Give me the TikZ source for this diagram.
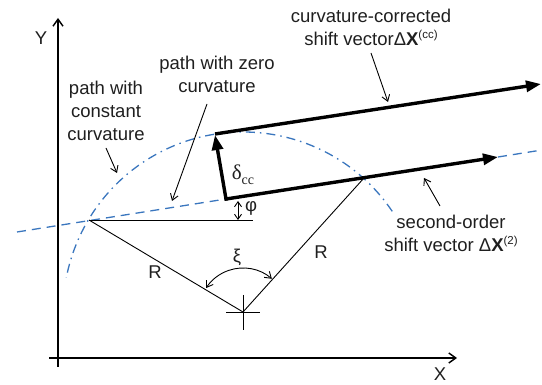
\documentclass[tikz,border=0pt]{standalone}
\usepackage{fontspec}
\setmainfont{Liberation Sans}
\newfontfamily\serifgreek{Liberation Serif}
\usetikzlibrary{arrows.meta,calc}
\definecolor{pathblue}{RGB}{58,118,190}
\newcommand{\supsmall}[1]{\raisebox{7pt}{\fontsize{11.5}{12}\selectfont #1}}
\begin{document}
\begin{tikzpicture}[x=1pt,y=1pt,
  lbl/.style={font=\fontsize{18.5}{23}\selectfont, inner sep=0pt, align=center, text=black!88},
  thinline/.style={line width=0.9pt},
  leader/.style={line width=0.9pt,-{Straight Barb[length=6pt,width=8pt]}},
  vec/.style={line width=3.4pt,-{Triangle[length=15pt,width=11pt]}},
  axis/.style={line width=1.4pt,-{Straight Barb[length=7pt,width=10pt]}},
  zeroline/.style={pathblue,line width=1.3pt,dash pattern=on 9pt off 6pt},
  constline/.style={pathblue,line width=1.3pt,dash pattern=on 9pt off 5pt on 1.5pt off 5pt},
]
\useasboundingbox (0,0) rectangle (542,-385);
% key points
\coordinate (Ytop) at (58,-18);
\coordinate (Ybot) at (58,-367);
\coordinate (Xleft) at (49,-358);
\coordinate (Xright) at (457,-358);
\coordinate (A) at (89,-220);
\coordinate (C) at (243,-312);
\coordinate (B) at (364,-178);
\coordinate (P) at (226,-199);
\coordinate (Q) at (215,-134);
\coordinate (T2) at (498,-157);
\coordinate (Tcc) at (541,-84);
\coordinate (Lz) at (17,-232);
\coordinate (Rz) at (542,-150);
\coordinate (H) at (253,-220);
\coordinate (Phi1) at (238,-201);
\coordinate (Phi2) at (238,-220);
% axes
\draw[axis] (Ybot) -- (Ytop);
\draw[axis] (Xleft) -- (Xright);
% paths
\draw[zeroline] (Lz) -- (P);
\draw[zeroline] (T2) -- (Rz);
\draw[constline] ([shift={(34:180pt)}]C) arc[start angle=34,end angle=169,radius=180pt];
% geometry
\draw[thinline] (A) -- (H);
\draw[thinline] (A) -- (C) -- (B);
\draw[thinline] ($(C)+(-17,0)$) -- ($(C)+(17,0)$);
\draw[thinline] ($(C)+(0,17)$) -- ($(C)+(0,-18)$);
\draw[thinline,{Straight Barb[length=6pt,width=8pt]}-{Straight Barb[length=6pt,width=8pt]}]
  ([shift={(49:44pt)}]C) arc[start angle=49,end angle=147,radius=44pt];
\draw[thinline,{Straight Barb[length=5pt,width=7pt]}-{Straight Barb[length=5pt,width=7pt]}] (Phi1) -- (Phi2);
% vectors
\draw[vec] (P) -- (T2);
\draw[vec] (Q) -- (Tcc);
\draw[vec, line cap=rect] (P) -- ($(Q)+(0,-1)$);
% labels
\node[lbl] (Ylab) at (41,-38) {Y};
\node[lbl] (Xlab) at (440,-374) {X};
\node[lbl] (R1) at (155,-272) {R};
\node[lbl] (R2) at (321,-252) {R};
\node[lbl] (xi) at (237,-257) {ξ};
\node[lbl] (phi) at (251,-208) {φ};
\node[lbl] (dcc) at (243,-175) {{\fontsize{21}{21}\selectfont\serifgreek δ\raisebox{-5pt}{\fontsize{14}{14}\selectfont cc}}};
\node[lbl] (constlab) at (106,-111) {path with\\constant\\curvature};
\node[lbl] (zerolab) at (217,-74) {path with zero\\curvature};
\node[lbl] (cclab) at (371,-27) {curvature-corrected\\shift vectorΔ\textbf{X}\supsmall{(cc)}};
\node[lbl] (solab) at (451,-233) {second-order\\shift vector Δ\textbf{X}\supsmall{(2)}};
% leaders
\coordinate (c1) at (106,-148); \coordinate (c2) at (117,-173);
\coordinate (z1) at (207,-104); \coordinate (z2) at (172,-201);
\coordinate (k1) at (371,-53); \coordinate (k2) at (388,-102);
\coordinate (s1) at (440,-206); \coordinate (s2) at (424,-178);
\draw[leader] (c1) -- (c2);
\draw[leader] (z1) -- (z2);
\draw[leader] (k1) -- (k2);
\draw[leader] (s1) -- (s2);
\end{tikzpicture}
\end{document}
